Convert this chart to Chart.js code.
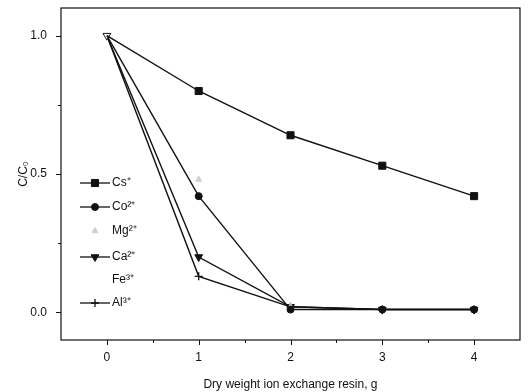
<!DOCTYPE html>
<html>
<head>
<meta charset="utf-8">
<script src="https://cdn.jsdelivr.net/npm/chart.js@4/dist/chart.umd.min.js"></script>
<style>
  html, body { margin: 0; padding: 0; background: #fff; }
  #wrap { width: 531px; height: 392px; }
</style>
</head>
<body>
<div id="wrap"><canvas id="resinChart" width="531" height="392"></canvas></div>
<script>
// resin dose (g) and relative concentration C/C0 for each ion
const resinDose = [0, 1, 2, 3, 4];
const cs = [1.0, 0.80, 0.64, 0.53, 0.42];
const co = [1.0, 0.42, 0.01, 0.01, 0.01];
const mg = [1.0, 0.48, 0.02, 0.01, 0.01];
const ca = [1.0, 0.20, 0.02, 0.01, 0.01];
const fe = [];
const al = [1.0, 0.13, 0.02, 0.01, 0.01];

const xTicks = [0, 1, 2, 3, 4];
const yTicks = [0.0, 0.5, 1.0];

const ink = '#111';
const fontFamily = '"Liberation Sans", Arial, sans-serif';

function pts(values) {
    return values.map((v, i) => ({ x: resinDose[i], y: v }));
}

const series = [
    { label: 'Cs\u207A', data: cs, style: 'rect', radius: 5, color: ink, line: true },
    { label: 'Co\u00B2\u207A', data: co, style: 'circle', radius: 3.5, color: ink, line: true },
    { label: 'Mg\u00B2\u207A', data: mg, style: 'triangle', radius: 3.5, color: '#d0d0d0', line: false },
    { label: 'Ca\u00B2\u207A', data: ca, style: 'triangle', radius: 4.5, color: ink, line: true, rotation: 180 },
    { label: 'Fe\u00B3\u207A', data: fe, style: false, radius: 0, color: 'rgba(0,0,0,0)', line: false },
    { label: 'Al\u00B3\u207A', data: al, style: 'cross', radius: 4, color: ink, line: true }
];

const datasets = series.map(s => ({
    label: s.label,
    data: pts(s.data),
    borderColor: s.color,
    backgroundColor: s.color,
    borderWidth: 1.4,
    showLine: s.line,
    pointStyle: s.style,
    pointRotation: s.rotation || 0,
    // the shared starting point is drawn once, as the open Ca triangle
    pointRadius: s.data.map((v, i) => (i === 0 ? (s.label.startsWith('Ca') ? 4.5 : 0) : s.radius)),
    pointBackgroundColor: s.data.map((v, i) => (i === 0 ? '#fff' : s.color)),
    pointBorderColor: s.color,
    pointBorderWidth: s.style === 'cross' ? 1.3 : 1,
    tension: 0
}));

// frame, tick marks and the in-plot legend
const decorations = {
    id: 'decorations',
    afterDraw(chart) {
        const { ctx, chartArea: a, scales } = chart;
        ctx.save();
        ctx.strokeStyle = ink;
        ctx.lineWidth = 1.2;
        ctx.strokeRect(a.left, a.top, a.right - a.left, a.bottom - a.top);

        ctx.lineWidth = 1;
        ctx.beginPath();
        for (let v = 0; v <= 4; v += 0.5) {
            const x = Math.round(scales.x.getPixelForValue(v)) + 0.5;
            const len = Number.isInteger(v) ? 5 : 3;
            ctx.moveTo(x, a.bottom);
            ctx.lineTo(x, a.bottom + len);
        }
        for (let v = 0; v <= 1.0001; v += 0.25) {
            const y = Math.round(scales.y.getPixelForValue(v)) + 0.5;
            const len = Math.abs(v * 2 - Math.round(v * 2)) < 1e-6 ? 5 : 3;
            ctx.moveTo(a.left, y);
            ctx.lineTo(a.left - len, y);
        }
        ctx.stroke();

        const legendY = [183, 207, 231, 257, 280, 303];
        ctx.font = '12px ' + fontFamily;
        ctx.textBaseline = 'middle';
        series.forEach((s, i) => {
            const y = legendY[i];
            if (s.line) {
                ctx.strokeStyle = s.color;
                ctx.lineWidth = 1.3;
                ctx.beginPath();
                ctx.moveTo(80, y);
                ctx.lineTo(110, y);
                ctx.stroke();
            }
            if (s.style) {
                ctx.fillStyle = s.color;
                ctx.strokeStyle = s.color;
                ctx.lineWidth = s.style === 'cross' ? 1.3 : 1;
                Chart.helpers.drawPoint(ctx, { pointStyle: s.style, radius: s.radius, rotation: s.rotation || 0, borderWidth: 1 }, 95, y);
            }
            ctx.fillStyle = ink;
            ctx.fillText(s.label, 112, y);
        });
        ctx.restore();
    }
};

new Chart(document.getElementById('resinChart'), {
    type: 'scatter',
    data: { datasets },
    options: {
        responsive: false,
        animation: false,
        layout: { autoPadding: false, padding: { top: 8, right: 11, left: 0, bottom: 0 } },
        plugins: { legend: { display: false }, tooltip: { enabled: false } },
        scales: {
            x: {
                type: 'linear',
                min: -0.5,
                max: 4.5,
                afterFit: s => { s.height = 52; s.paddingLeft = 0; s.paddingRight = 0; },
                afterBuildTicks: s => { s.ticks = xTicks.map(v => ({ value: v })); },
                grid: { display: false, drawTicks: false },
                border: { display: false },
                ticks: { padding: 10, color: ink, font: { family: fontFamily, size: 12 } },
                title: { display: true, text: 'Dry weight ion exchange resin, g', color: ink, padding: { top: 0, bottom: 0 }, font: { family: fontFamily, size: 12 } }
            },
            y: {
                type: 'linear',
                min: -0.1,
                max: 1.1,
                afterFit: s => { s.width = 61; s.paddingTop = 0; s.paddingBottom = 0; },
                afterBuildTicks: s => { s.ticks = yTicks.map(v => ({ value: v })); },
                grid: { display: false, drawTicks: false },
                border: { display: false },
                ticks: { padding: 14, color: ink, font: { family: fontFamily, size: 12 }, callback: v => v.toFixed(1) },
                title: { display: true, text: 'C/C\u2080', color: ink, padding: { top: 16, bottom: 0 }, font: { family: fontFamily, size: 12 } }
            }
        }
    },
    plugins: [decorations]
});
</script>
</body>
</html>
